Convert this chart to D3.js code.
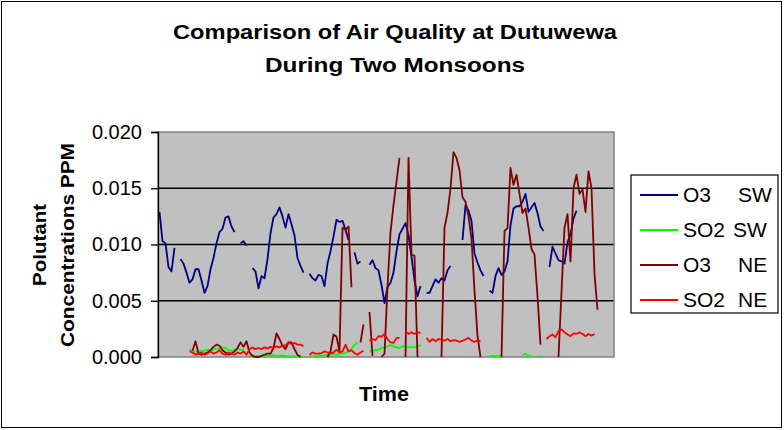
<!DOCTYPE html>
<html>
<head>
<meta charset="utf-8">
<script src="https://cdn.jsdelivr.net/npm/d3@7"></script>
<style>
    body { margin: 0; background: #fff; }
    svg text { font-family: Arial, "Liberation Sans", sans-serif; fill: #000; }
</style>
</head>
<body>
<svg id="chart" width="784" height="430"></svg>
<script>

// readings, one per time step (ppm), null = no reading
const timeSteps = d3.range(152);

const o3SW = [
    0.0129, 0.0103, 0.0101, 0.0080, 0.0076, 0.0097, null, 0.0087, 0.0083, 0.0075,
    0.0066, 0.0069, 0.0078, 0.0078, 0.0068, 0.0057, 0.0063, 0.0078, 0.0088, 0.0101,
    0.0111, 0.0114, 0.0124, 0.0125, 0.0116, 0.0111, null, 0.0101, 0.0103, 0.0099,
    null, 0.0079, 0.0076, 0.0061, 0.0072, 0.0070, 0.0087, 0.0110, 0.0124, 0.0127,
    0.0133, 0.0125, 0.0115, 0.0127, 0.0118, 0.0108, 0.0088, 0.0081, 0.0075, null,
    0.0074, 0.0070, 0.0068, 0.0073, 0.0072, 0.0063, 0.0083, 0.0094, 0.0107, 0.0122,
    0.0120, 0.0121, 0.0113, 0.0104, null, 0.0093, 0.0083, 0.0085, null, null,
    0.0082, 0.0086, 0.0079, 0.0077, 0.0064, 0.0048, 0.0062, 0.0066, 0.0075, 0.0094,
    0.0109, 0.0114, 0.0119, 0.0108, 0.0089, 0.0068, 0.0054, 0.0063, null, 0.0057,
    0.0057, 0.0063, 0.0069, 0.0066, 0.0070, 0.0068, 0.0077, 0.0081, null, null,
    null, 0.0104, 0.0135, 0.0130, 0.0121, 0.0092, 0.0084, 0.0077, 0.0072, null,
    0.0059, 0.0057, 0.0072, 0.0079, 0.0073, 0.0076, 0.0085, 0.0117, 0.0132, 0.0134,
    0.0134, 0.0138, 0.0145, 0.0129, 0.0133, 0.0137, 0.0128, 0.0116, 0.0112, null,
    0.0080, 0.0098, 0.0092, 0.0086, 0.0085, 0.0083, 0.0102, 0.0109, 0.0123, 0.0130,
    null, null, null, null, null, null, null, null, null, null,
    null, null
];

const so2SW = [
    null, null, null, null, null, null, null, null, null, null,
    0.0007, 0.0005, 0.00045, 0.0005, 0.00055, 0.00055, 0.00065, 0.0006, 0.00065, 0.00075,
    0.00075, 0.00085, 0.0008, 0.0006, 0.00055, 0.0006, 0.0007, 0.00065, 0.0006, null,
    0.0002, 0.00015, 0.0001, 0.00005, 0.00005, 0.0001, 0.0001, 0.0002, 0.00015, 0.0001,
    0.0001, 0.00015, 0.0001, 0.00005, 0.00005, 0.00005, 0.00005, 0.00005, 0, null,
    0.0001, 0.00005, 0.00005, 0.0001, 0.00015, 0.00015, 0.0002, 0.0002, 0.00025, 0.0002,
    0.00025, 0.00035, 0.00035, 0.0005, 0.00075, 0.00105, 0.0013, null, null, null,
    0.00055, 0.00055, 0.0006, 0.00065, 0.0008, 0.00085, 0.00095, 0.00105, 0.00095, 0.00085,
    0.0008, 0.00095, 0.0009, 0.00085, 0.0009, 0.00085, 0.00095, 0.00105, null, null,
    null, null, null, null, null, null, null, null, null, null,
    null, null, null, null, null, null, null, null, null, null,
    0.00005, 0.0001, 0.00005, 0.0001, 0.00005, null, null, null, null, null,
    null, 0.00015, 0.0003, 0.0001, 0.00005, null, 0.00005, 0.00005, null, null,
    null, null, null, null, null, null, null, null, null, null,
    null, null, null, null, null, null, null, null, null, null,
    null, null
];

const o3NE = [
    null, null, null, null, null, null, null, null, null, null,
    null, 0.00055, 0.0014, 0.0003, 0.0002, 0.0003, 0.0004, 0.0006, 0.0009, 0.0011,
    0.0010, 0.0006, 0.0004, 0.0002, 0.0003, 0.0005, 0.0008, 0.0013, 0.0009, 0.0014,
    0.0004, 0.0001, 0, 0, 0.0001, 0.0002, 0.0003, 0.0003, 0.0008, 0.0021,
    0.0016, 0.0010, 0.0007, 0.0013, 0.0013, 0.0007, 0.0002, 0, null, null,
    null, null, null, null, null, null, 0, 0.0005, 0.0020, 0.0018,
    0.0005, 0.0115, 0.0113, 0.0116, 0.0062, null, null, 0.0013, 0.0029, null,
    0.0040, 0.0001, null, null, 0, 0.0003, 0.0062, 0.0111, 0.0135, 0.0156,
    0.0177, null, 0, 0.0177, 0.0091, 0.0090, 0, null, null, null,
    null, null, null, null, 0, 0.0115, 0.0128, 0.0150, 0.0182, 0.0177,
    0.0166, 0.0142, 0.0138, 0.0125, 0.0105, 0.0059, 0.0019, 0, null, null,
    null, null, null, null, 0, 0.0112, 0.01145, 0.0168, 0.0153, 0.0162,
    0.0145, 0.0128, 0.0132, 0.0115, 0.0096, 0.0091, 0.0054, 0.0011, null, null,
    null, null, null, 0, 0.0058, 0.0115, 0.0127, 0.0085, 0.0150, 0.0162,
    0.0145, 0.0149, 0.0129, 0.0165, 0.0150, 0.0074, 0.0042, null, null, null,
    null, null
];

const so2NE = [
    null, null, null, null, null, null, null, null, null, null,
    0.0005, 0.0004, 0.0002, 0.0003, 0.0004, 0.0002, 0.0003, 0.0005, 0.0003, 0.0004,
    0.0006, 0.0003, 0.0002, 0.0004, 0.0003, 0.0002, 0.0004, 0.0003, 0.0005, 0.0002,
    0.0007, 0.00085, 0.0007, 0.0008, 0.0007, 0.00085, 0.00075, 0.0009, 0.0008, 0.00095,
    0.00085, 0.00105, 0.0010, 0.0013, 0.00115, 0.00125, 0.0011, 0.0011, 0.00095, null,
    0.0002, 0.0004, 0.0003, 0.0003, 0.00035, 0.0005, 0.0004, 0.00035, 0.0004, 0.00065,
    0.0004, 0.0005, 0.0011, 0.0005, 0.0006, 0.00035, 0.0002, 0.0004, 0.00055, null,
    0.00145, 0.0016, 0.0015, 0.00185, 0.0018, 0.00205, 0.0016, 0.0013, 0.00125, 0.0017,
    0.0017, null, 0.0023, 0.00205, 0.0022, 0.00205, 0.0022, 0.00215, null, 0.0017,
    0.00135, 0.0016, 0.0014, 0.0016, 0.00155, 0.00145, 0.0016, 0.0014, 0.0015, 0.00145,
    0.00135, 0.00145, 0.00155, 0.0017, 0.00145, 0.00135, 0.00145, 0.0014, null, null,
    null, null, null, null, null, null, null, null, null, null,
    null, null, null, null, null, null, null, null, null, 0.0016,
    0.00185, 0.0020, 0.00175, 0.0023, 0.00245, 0.0022, 0.0020, 0.00185, 0.0021, 0.00205,
    0.0022, 0.00205, 0.00185, 0.00205, 0.0019, 0.00205, null, null, null, null,
    null, null
];

const seriesNames = ["O3", "SO2", "O3", "SO2"];
const seriesSeasons = ["SW", "SW", "NE", "NE"];
const seriesColors = ["#000080", "#00ff00", "#800000", "#ff0000"];
const seriesValues = [o3SW, so2SW, o3NE, so2NE];

const yTicks = [0, 0.005, 0.010, 0.015, 0.020];
const titleLines = ["Comparison of Air Quality at Dutuwewa", "During Two Monsoons"];
const yTitleLines = ["Polutant", "Concentrations PPM"];
const xTitle = "Time";

// layout

const plotLeft = 158;
const plotRight = 614;
const plotTop = 132;
const plotBottom = 357;

const svg = d3.select("#chart");

svg.append("rect")
    .attr("x", 1.5)
    .attr("y", 1.5)
    .attr("width", 780)
    .attr("height", 426)
    .attr("fill", "#fff")
    .attr("stroke", "#000")
    .attr("stroke-width", 1);

// scales

const xScale = d3.scaleBand()
    .domain(timeSteps)
    .range([plotLeft, plotRight]);

const yScale = d3.scaleLinear()
    .domain([0, 0.020])
    .range([plotBottom, plotTop]);

// plot area

svg.append("rect")
    .attr("x", plotLeft)
    .attr("y", plotTop)
    .attr("width", plotRight - plotLeft)
    .attr("height", plotBottom - plotTop)
    .attr("fill", "#c0c0c0");

svg.append("g")
    .selectAll("line")
    .data(yTicks.filter(function(d) { return d > 0 && d < 0.020; }))
    .enter().append("line")
    .attr("x1", plotLeft)
    .attr("x2", plotRight)
    .attr("y1", function(d) { return yScale(d); })
    .attr("y2", function(d) { return yScale(d); })
    .attr("stroke", "#000")
    .attr("stroke-width", 1.3);

svg.append("rect")
    .attr("x", plotLeft)
    .attr("y", plotTop)
    .attr("width", plotRight - plotLeft)
    .attr("height", plotBottom - plotTop)
    .attr("fill", "none")
    .attr("stroke", "#808080")
    .attr("stroke-width", 1.5);

// lines

const line = d3.line()
    .defined(function(d) { return d != null; })
    .x(function(d, i) { return xScale(i) + xScale.bandwidth() / 2; })
    .y(function(d) { return yScale(d); });

svg.append("g")
    .selectAll("path")
    .data(seriesValues)
    .enter().append("path")
    .attr("d", line)
    .attr("fill", "none")
    .attr("stroke", function(d, i) { return seriesColors[i]; })
    .attr("stroke-width", 1.8)
    .attr("stroke-linejoin", "round");

// y axis

const yAxis = d3.axisLeft(yScale)
    .tickValues(yTicks)
    .tickFormat(d3.format(".3f"))
    .tickSize(7)
    .tickPadding(9);

const yAxisG = svg.append("g")
    .attr("transform", "translate(" + plotLeft + ",0)")
    .call(yAxis);

yAxisG.select(".domain").attr("stroke", "#000").attr("stroke-width", 1.3);
yAxisG.selectAll(".tick line").attr("stroke", "#000").attr("stroke-width", 1.3);
yAxisG.selectAll(".tick text")
    .attr("font-size", 20)
    .attr("font-family", "Arial, 'Liberation Sans', sans-serif")
    .attr("fill", "#000");

// titles

svg.append("g")
    .selectAll("text")
    .data(titleLines)
    .enter().append("text")
    .attr("x", 395)
    .attr("y", function(d, i) { return 39 + i * 33; })
    .attr("text-anchor", "middle")
    .attr("font-size", 20)
    .attr("font-weight", "bold")
    .attr("textLength", function(d, i) { return i === 0 ? 444 : 260; })
    .attr("lengthAdjust", "spacingAndGlyphs")
    .text(function(d) { return d; });

svg.append("g")
    .selectAll("text")
    .data(yTitleLines)
    .enter().append("text")
    .attr("transform", function(d, i) { return "translate(" + (46 + i * 28) + ",245) rotate(-90)"; })
    .attr("text-anchor", "middle")
    .attr("font-size", 19)
    .attr("font-weight", "bold")
    .attr("textLength", function(d, i) { return i === 0 ? 82 : 204; })
    .attr("lengthAdjust", "spacingAndGlyphs")
    .text(function(d) { return d; });

svg.append("text")
    .attr("x", 384)
    .attr("y", 401)
    .attr("text-anchor", "middle")
    .attr("font-size", 20)
    .attr("font-weight", "bold")
    .attr("textLength", 50)
    .attr("lengthAdjust", "spacingAndGlyphs")
    .text(xTitle);

// legend

const legend = svg.append("g")
    .attr("transform", "translate(631,175)");

legend.append("rect")
    .attr("width", 147)
    .attr("height", 138)
    .attr("fill", "#fff")
    .attr("stroke", "#000")
    .attr("stroke-width", 1.2);

const legendItems = legend.selectAll(".item")
    .data(seriesNames)
    .enter().append("g")
    .attr("class", "item")
    .attr("transform", function(d, i) { return "translate(0," + (20 + i * 35) + ")"; });

legendItems.append("line")
    .attr("x1", 9)
    .attr("x2", 47)
    .attr("stroke", function(d, i) { return seriesColors[i]; })
    .attr("stroke-width", 1.8);

legendItems.append("text")
    .attr("x", 52)
    .attr("y", 7)
    .attr("font-size", 21)
    .text(function(d) { return d; });

legendItems.append("text")
    .attr("x", function(d, i) { return i === 1 ? 102 : 107; })
    .attr("y", 7)
    .attr("font-size", 21)
    .text(function(d, i) { return seriesSeasons[i]; });

</script>
</body>
</html>
